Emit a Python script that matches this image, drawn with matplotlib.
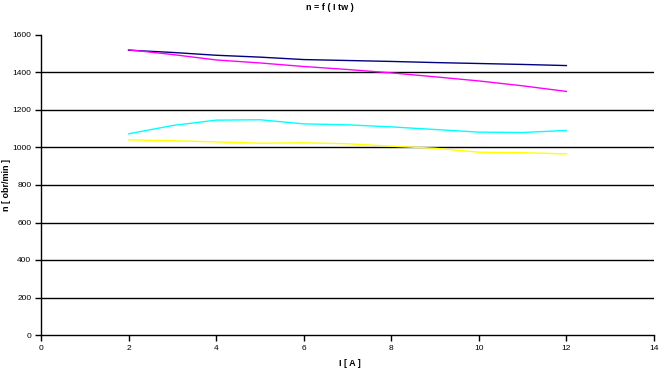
import matplotlib
matplotlib.use("Agg")
import matplotlib.pyplot as plt

# prad I [A]
current = [2, 3, 4, 5, 6, 7, 8, 9, 10, 11, 12]
# predkosc n [obr/min] dla czterech serii
n_navy = [1519, 1507, 1492, 1482, 1469, 1464, 1459, 1453, 1448, 1443, 1437]
n_magenta = [1521, 1496, 1467, 1451, 1432, 1416, 1398, 1377, 1355, 1329, 1299]
n_cyan = [1073, 1117, 1146, 1148, 1126, 1121, 1110, 1096, 1082, 1080, 1091]
n_yellow = [1041, 1036, 1030, 1023, 1025, 1020, 1007, 996, 975, 972, 966]

plt.rcParams['font.family'] = ['Liberation Sans', 'DejaVu Sans']

W, H = 660, 370
fig = plt.figure(figsize=(6.6, 3.7), dpi=100)
ax = fig.add_axes([41 / W, 35 / H, 613 / W, 300 / H])
# axes above spans y from 35 px (bottom) ... flip for figure coords
ax.set_position([41 / W, (H - 335) / H, 613 / W, 300 / H])

ax.plot(current, n_navy, color='#000080', lw=1)
ax.plot(current, n_magenta, color='#ff00ff', lw=1)
ax.plot(current, n_cyan, color='#00ffff', lw=1)
ax.plot(current, n_yellow, color='#ffff00', lw=1)

ax.set_xlim(0, 14)
ax.set_ylim(0, 1600)
ax.set_xticks(range(0, 15, 2))
ax.set_yticks(range(0, 1601, 200))
for y in range(200, 1401, 200):
    ax.axhline(y, color='black', lw=1, zorder=0)

ax.spines['top'].set_visible(False)
ax.spines['right'].set_visible(False)
ax.spines['left'].set_linewidth(1)
ax.spines['bottom'].set_linewidth(1)
ax.tick_params(labelsize=6, length=4, width=1, direction='out', pad=3)

fig.text(330 / W, 1 - 7 / H, 'n = f ( I tw )', fontsize=6.5, fontweight='bold',
         ha='center', va='center')
fig.text(350 / W, 1 - 363 / H, 'I [ A ]', fontsize=6.5, fontweight='bold',
         ha='center', va='center')
fig.text(7 / W, 1 - 185 / H, 'n [ obr/min ]', fontsize=6.5, fontweight='bold',
         ha='center', va='center', rotation=90)

fig.savefig('out.png', dpi=100)
